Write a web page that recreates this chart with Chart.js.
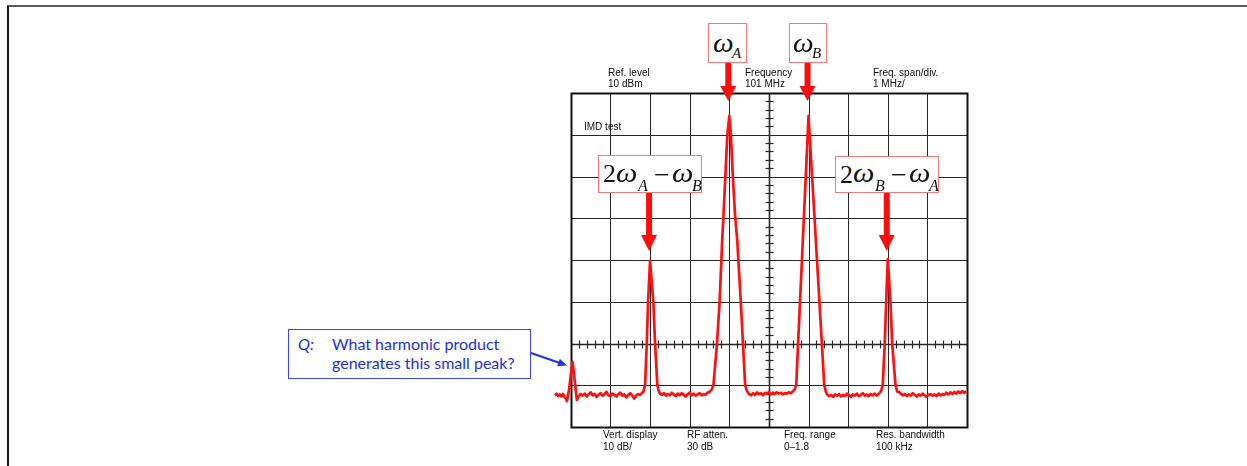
<!DOCTYPE html>
<html>
<head>
<meta charset="utf-8">
<script src="https://cdn.jsdelivr.net/npm/chart.js@4.4.1/dist/chart.umd.min.js"></script>
<style>
  html, body { margin: 0; padding: 0; background: #fff; }
  #wrap { position: relative; width: 1247px; height: 466px; overflow: hidden; }
  #spec { position: absolute; left: 0; top: 0; }
  .frame { position: absolute; left: 7px; top: 5px; width: 1250px; height: 470px;
           border-top: 2px solid #5a5a5a; border-left: 2px solid #1a1a1a; }
  .lbl { position: absolute; font: 10px "Liberation Sans", Arial, sans-serif; line-height: 11px;
         color: #0d0d0d; white-space: nowrap; }
  .lbl.low { line-height: 12px; }
  .box { position: absolute; background: #fff; border: 1px solid #f07a7a; box-sizing: border-box; }
  .box span { position: absolute; line-height: 1; font-family: "Liberation Serif", "Times New Roman", serif;
              color: #111; white-space: nowrap; }
  .box .w { font-style: italic; font-size: 27px; transform: scaleX(1.08); transform-origin: 0 0; }
  .box .W { font-style: italic; font-size: 28px; transform: scaleX(1.08); transform-origin: 0 0; }
  .box .s { font-style: italic; font-size: 15px; }
  .box .S { font-style: italic; font-size: 16px; }
  .box .n { font-size: 26px; }
  .box .m { font-size: 28px; }
  .qbox { position: absolute; left: 288px; top: 329px; width: 243px; height: 50px; box-sizing: border-box;
          border: 1px solid #3b45ee; background: #fff; }
  .qbox div { position: absolute; font: 16px Lato, "Open Sans", sans-serif; line-height: 19px; color: #2430e0; white-space: nowrap; }
</style>
</head>
<body>
<div id="wrap">
  <div class="frame"></div>
  <canvas id="spec" width="1247" height="466"></canvas>

  <div class="lbl" style="left:608px; top:67px">Ref. level<br>10 dBm</div>
  <div class="lbl" style="left:745px; top:67px">Frequency<br>101 MHz</div>
  <div class="lbl" style="left:873px; top:67px">Freq. span/div. <span style="color:#aaa">·</span><br>1 MHz/</div>
  <div class="lbl" style="left:584px; top:121px">IMD test</div>
  <div class="lbl low" style="left:603px; top:429px">Vert. display<br>10 dB/</div>
  <div class="lbl low" style="left:687px; top:429px">RF atten.<br>30 dB</div>
  <div class="lbl low" style="left:784px; top:429px">Freq. range<br>0–1.8</div>
  <div class="lbl low" style="left:876px; top:429px">Res. bandwidth<br>100 kHz</div>

  <div class="box" style="left:708px; top:23px; width:39px; height:40px">
    <span class="w" style="left:4px; top:6px">ω</span><span class="s" style="left:23px; top:22px">A</span>
  </div>
  <div class="box" style="left:789px; top:23px; width:38px; height:40px">
    <span class="w" style="left:3px; top:6px">ω</span><span class="s" style="left:22px; top:22px">B</span>
  </div>
  <div class="box" style="left:598px; top:155px; width:104px; height:38px">
    <span class="n" style="left:4px; top:5px">2</span><span class="W" style="left:17px; top:3px">ω</span><span class="S" style="left:39px; top:22px">A</span><span class="m" style="left:55px; top:5px">−</span><span class="W" style="left:73px; top:3px">ω</span><span class="S" style="left:93px; top:22px">B</span>
  </div>
  <div class="box" style="left:835px; top:156px; width:104px; height:37px">
    <span class="n" style="left:4px; top:5px">2</span><span class="W" style="left:17px; top:2px">ω</span><span class="S" style="left:39px; top:21px">B</span><span class="m" style="left:55px; top:4px">−</span><span class="W" style="left:73px; top:2px">ω</span><span class="S" style="left:93px; top:21px">A</span>
  </div>

  <div class="qbox">
    <div style="left:9px; top:4px; font-style:italic">Q:</div>
    <div style="left:43px; top:4px">What harmonic product<br>generates this small peak?</div>
  </div>
</div>

<script>
// graticule: 10 divisions of 1 MHz around 101 MHz, 8 divisions of 10 dB below the 10 dBm ref level
const gridMHz = [96, 97, 98, 99, 100, 101, 102, 103, 104, 105, 106];
const gridDbm = [10, 0, -10, -20, -30, -40, -50, -60, -70];

// tones and third-order products the red arrows point at
const peakMHz = [98, 100, 102, 104];
const peakNames = ['2ωA−ωB', 'ωA', 'ωB', '2ωB−ωA'];

// spectrum trace
const traceMHz = [
  95.60, 95.64, 95.68, 95.72, 95.76, 95.80, 95.84, 95.87,
  95.90, 95.957, 96.00, 96.043, 96.083, 96.127, 96.152, 96.20,
  96.25, 96.30, 96.35, 96.40, 96.45, 96.50, 96.55, 96.60, 96.65, 96.70, 96.75, 96.80,
  96.85, 96.90, 96.95, 97.00, 97.05, 97.10, 97.15, 97.20, 97.25, 97.30, 97.35, 97.40,
  97.45, 97.50, 97.55, 97.60, 97.65, 97.70, 97.75, 97.79,
  97.83, 97.874, 97.917, 97.95, 98.00, 98.083, 98.126, 98.184, 98.215, 98.253,
  98.30, 98.35, 98.40, 98.45, 98.50, 98.55, 98.60, 98.65, 98.70, 98.75, 98.80, 98.85,
  98.90, 98.95, 99.00, 99.05, 99.10, 99.15, 99.20, 99.25, 99.30, 99.35, 99.40, 99.45, 99.50,
  99.56, 99.60, 99.69, 99.755, 99.80, 99.82, 99.85, 99.90, 99.95, 100.00,
  100.04, 100.09, 100.15, 100.20, 100.23, 100.29, 100.345, 100.40, 100.44, 100.50,
  100.55, 100.60, 100.65, 100.70, 100.75, 100.80, 100.85, 100.90, 100.95, 101.00, 101.05,
  101.10, 101.15, 101.20, 101.25, 101.30, 101.35, 101.40, 101.45, 101.50, 101.55, 101.60,
  101.65, 101.69, 101.737, 101.785, 101.833, 101.856, 101.882, 101.93, 101.978, 102.00,
  102.028, 102.091, 102.152, 102.184, 102.215, 102.275, 102.336, 102.396, 102.434, 102.47,
  102.52, 102.57, 102.62, 102.67, 102.72, 102.77, 102.82, 102.87, 102.92, 102.97, 103.02,
  103.07, 103.12, 103.17, 103.22, 103.27, 103.32, 103.37, 103.42, 103.47, 103.52, 103.57,
  103.62, 103.67, 103.72, 103.77,
  103.83, 103.874, 103.924, 103.96, 104.00, 104.068, 104.111, 104.194, 104.237,
  104.28, 104.33, 104.38, 104.43, 104.48, 104.53, 104.58, 104.63, 104.68, 104.73, 104.78,
  104.83, 104.88, 104.93, 104.98, 105.03, 105.08, 105.13, 105.18, 105.23, 105.28, 105.33,
  105.38, 105.43, 105.48, 105.53, 105.58, 105.63, 105.68, 105.73, 105.78, 105.83, 105.88,
  105.93, 105.98
];
const traceDbm = [
  -62.4, -62.0, -62.6, -62.2, -62.7, -62.1, -62.8, -63.1,
  -63.8, -61.0, -57.5, -54.4, -57.5, -61.5, -63.5, -62.6,
  -62.1, -62.5, -62.0, -62.7, -62.2, -61.7, -62.4, -62.1, -62.8, -62.3, -61.9, -62.5,
  -62.2, -61.6, -62.4, -62.6, -62.0, -62.3, -62.7, -62.1, -61.8, -62.5, -62.2, -62.9,
  -62.3, -61.9, -62.5, -63.2, -62.4, -62.1, -62.3, -61.9,
  -61.6, -59.9, -49.9, -40.1, -30.2, -40.1, -49.9, -59.9, -61.3, -62.0,
  -62.3, -61.9, -62.5, -62.1, -62.4, -61.8, -62.2, -62.6, -62.0, -62.4, -61.9, -62.3,
  -62.7, -62.1, -61.8, -62.4, -62.0, -62.5, -62.2, -61.9, -62.4, -62.1, -62.3, -61.8, -61.6,
  -61.0, -59.9, -49.9, -40.1, -30.2, -25.2, -19.9, -10.1, -0.1, 4.5,
  -0.1, -10.1, -19.9, -25.2, -30.2, -40.1, -49.9, -59.9, -61.3, -62.1,
  -62.4, -61.9, -62.3, -61.7, -62.1, -61.9, -62.4, -61.8, -62.0, -61.6, -62.2,
  -61.8, -62.1, -61.7, -62.0, -61.8, -62.2, -61.9, -62.0, -61.7, -61.9, -61.5,
  -61.0, -59.9, -49.9, -40.1, -30.2, -25.2, -19.9, -10.1, -0.1, 4.5,
  -0.1, -10.1, -19.9, -25.2, -30.2, -40.1, -49.9, -59.9, -61.4, -62.2,
  -62.6, -62.3, -62.8, -62.2, -62.5, -62.1, -62.7, -62.3, -62.6, -62.0, -62.4,
  -62.8, -62.2, -62.5, -62.0, -62.6, -62.3, -61.9, -62.5, -62.2, -62.6, -62.1,
  -62.4, -62.0, -62.5, -62.1,
  -61.4, -59.9, -49.9, -40.1, -29.8, -40.1, -49.9, -59.9, -61.5,
  -61.6, -62.0, -62.4, -62.1, -62.6, -62.2, -62.5, -61.9, -62.3, -62.7, -62.2,
  -62.5, -62.0, -62.4, -62.8, -62.3, -62.1, -62.5, -62.2, -62.6, -62.0, -62.4,
  -62.1, -62.3, -61.8, -62.2, -61.7, -62.1, -61.6, -62.0, -61.5, -61.9, -61.4,
  -61.8, -61.5
];

const graticule = {
  id: 'graticule',
  beforeDatasetsDraw(chart) {
    const { ctx, scales: { x, y } } = chart;
    const px = v => Math.round(x.getPixelForValue(v)) + 0.5;
    const py = v => Math.round(y.getPixelForValue(v)) + 0.5;
    const left = px(gridMHz[0]), right = px(gridMHz[gridMHz.length - 1]);
    const top = py(gridDbm[0]), bottom = py(gridDbm[gridDbm.length - 1]);
    const seg = (x1, y1, x2, y2) => { ctx.beginPath(); ctx.moveTo(x1, y1); ctx.lineTo(x2, y2); ctx.stroke(); };

    ctx.save();
    ctx.strokeStyle = '#262626';
    ctx.lineWidth = 1;
    gridMHz.forEach(f => seg(px(f), top, px(f), bottom));
    gridDbm.forEach(d => seg(left, py(d), right, py(d)));

    // centre frequency line and the -50 dBm line carry minor ticks
    ctx.lineWidth = 1.6;
    const cx = px(101), cy = py(-50);
    seg(cx, top, cx, bottom);
    seg(left, cy, right, cy);
    ctx.lineWidth = 1.2;
    for (let d = 10; d >= -70; d -= 2) {
      if (d % 10 === 0) continue;
      seg(cx - 4, py(d), cx + 4, py(d));
    }
    for (let i = 1; i < 50; i++) {
      if (i % 5 === 0) continue;
      const f = 96 + i * 0.2;
      seg(px(f), cy - 4, px(f), cy + 4);
    }

    ctx.lineWidth = 2;
    ctx.strokeStyle = '#111';
    ctx.strokeRect(left, top, right - left, bottom - top);
    ctx.restore();
  }
};

const arrows = {
  id: 'arrows',
  afterDatasetsDraw(chart) {
    const { ctx, scales: { x } } = chart;
    ctx.save();
    ctx.fillStyle = '#ff0d0d';
    peakMHz.forEach((f, i) => {
      const ax = x.getPixelForValue(f) - 1;
      const tone = peakNames[i].length <= 2;
      const shaftTop = tone ? 63 : 193;
      const headTop = tone ? 86 : 235;
      const tip = tone ? 101 : 251;
      ctx.fillRect(ax - 3, shaftTop, 6, headTop - shaftTop + 1);
      ctx.beginPath();
      ctx.moveTo(ax - 8, headTop);
      ctx.lineTo(ax + 8, headTop);
      ctx.lineTo(ax, tip);
      ctx.closePath();
      ctx.fill();
    });

    // blue pointer from the question box to the small peak
    ctx.strokeStyle = '#2233e6';
    ctx.fillStyle = '#2233e6';
    ctx.lineWidth = 2;
    const x1 = 531, y1 = 353, x2 = 567, y2 = 365.5;
    const a = Math.atan2(y2 - y1, x2 - x1);
    ctx.beginPath();
    ctx.moveTo(x1, y1);
    ctx.lineTo(x2 - 6 * Math.cos(a), y2 - 6 * Math.sin(a));
    ctx.stroke();
    ctx.beginPath();
    ctx.moveTo(x2, y2);
    ctx.lineTo(x2 - 9 * Math.cos(a) + 4 * Math.sin(a), y2 - 9 * Math.sin(a) - 4 * Math.cos(a));
    ctx.lineTo(x2 - 9 * Math.cos(a) - 4 * Math.sin(a), y2 - 9 * Math.sin(a) + 4 * Math.cos(a));
    ctx.closePath();
    ctx.fill();
    ctx.restore();
  }
};

new Chart(document.getElementById('spec'), {
  type: 'line',
  data: {
    datasets: [{
      label: 'IMD test',
      data: traceMHz.map((f, i) => ({ x: f, y: traceDbm[i] })),
      borderColor: '#ff1010',
      borderWidth: 2.7,
      pointRadius: 0,
      tension: 0,
      borderJoinStyle: 'round',
      clip: false
    }]
  },
  options: {
    responsive: false,
    animation: false,
    layout: { padding: { left: 553, right: 280, top: 93, bottom: 39 } },
    plugins: { legend: { display: false }, tooltip: { enabled: false } },
    scales: {
      x: { type: 'linear', min: 95.55, max: 106, display: false },
      y: { type: 'linear', min: -70, max: 10, display: false }
    }
  },
  plugins: [graticule, arrows]
});
</script>
</body>
</html>
